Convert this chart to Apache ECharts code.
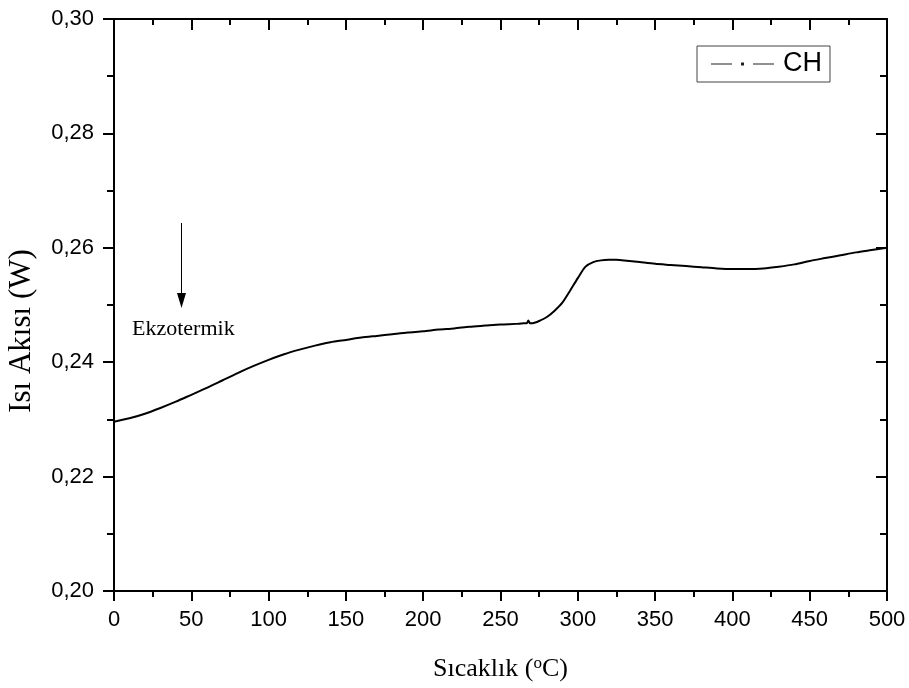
<!DOCTYPE html>
<html>
<head>
<meta charset="utf-8">
<script src="https://cdn.jsdelivr.net/npm/echarts@6/dist/echarts.min.js"></script>
<style>html,body{margin:0;padding:0;background:#fff}#c{width:909px;height:688px}</style>
</head>
<body>
<div id="c"></div>
<script>
var temps = [0,10,20,30,40,50,60,70,80,90,100,110,120,130,140,150,160,170,180,190,200,210,220,230,240,250,260,265,267,268,269,270,272,275,280,285,290,295,300,305,310,315,320,325,330,340,350,360,370,380,390,400,410,420,430,440,450,460,470,480,490,500];
var heatFlow = [0.2296,0.2302,0.2310,0.2320,0.2331,0.2343,0.2355,0.2368,0.2381,0.2393,0.2404,0.2414,0.2422,0.2429,0.2435,0.2439,0.2443,0.2446,0.2449,0.2452,0.2454,0.2457,0.2459,0.2462,0.2464,0.2466,0.2467,0.2468,0.2468,0.2473,0.2468,0.2468,0.2469,0.2472,0.2479,0.2490,0.2504,0.2525,0.2547,0.2567,0.2575,0.2578,0.2579,0.2579,0.2578,0.2575,0.2572,0.2570,0.2568,0.2566,0.2564,0.2563,0.2563,0.2564,0.2567,0.2571,0.2577,0.2582,0.2587,0.2592,0.2596,0.2600];
var seriesName = 'CH';
var xTitle = 'Sıcaklık (';
var yTitle = 'Isı Akısı (W)';
var annotation = 'Ekzotermik';

var data = temps.map(function(t,i){return [t, heatFlow[i]];});
var chart = echarts.init(document.getElementById('c'), null, {renderer:'canvas'});
var axisLineStyle = {color:'#000', width:2};
var baseX = {
  type:'value', min:0, max:500, interval:50,
  axisLine:{show:true, onZero:false, lineStyle:axisLineStyle},
  splitLine:{show:false},
  minorTick:{show:true, splitNumber:2, length:6, lineStyle:{color:'#000', width:2}},
  axisTick:{show:true, length:10, lineStyle:{color:'#000', width:2}}
};
var baseY = {
  type:'value', min:0.2, max:0.3, interval:0.02,
  axisLine:{show:true, onZero:false, lineStyle:axisLineStyle},
  splitLine:{show:false},
  minorTick:{show:true, splitNumber:2, length:7, lineStyle:{color:'#000', width:2}},
  axisTick:{show:true, length:11, lineStyle:{color:'#000', width:2}}
};
var option = {
  animation:false,
  backgroundColor:'#fff',
  grid:{left:114, right:22, top:19, bottom:97, containLabel:false, outerBoundsMode:'none'},
  legend:{
    data:[{name:seriesName, icon:'path://M0,1H21V2H0Z M30,0H33V3H30Z M42,1H63V2H42Z'}],
    left:697, top:46, orient:'horizontal',
    itemWidth:63, itemHeight:3,
    padding:[3,8,3,14],
    borderColor:'#444', borderWidth:1,
    textStyle:{fontFamily:'Liberation Sans', fontSize:27, color:'#000', lineHeight:30, padding:[0,0,0,4]},
    itemStyle:{color:'#222'}
  },
  xAxis:[
    Object.assign({}, baseX, {
      position:'bottom',
      axisLabel:{show:true, margin:18, fontFamily:'Liberation Sans', fontSize:22, color:'#000'},
      name:'', nameLocation:'middle', nameGap:64,
      nameTextStyle:{
        fontFamily:'Liberation Serif', fontSize:26, color:'#000',
        rich:{sup:{fontFamily:'Liberation Serif', fontSize:17, verticalAlign:'top', color:'#000', padding:[0,0,12,0]}, n:{fontFamily:'Liberation Serif', fontSize:26, color:'#000'}}
      }
    }),
    Object.assign({}, baseX, {
      position:'top',
      axisLabel:{show:false},
      axisTick:{show:true, inside:true, length:11, lineStyle:{color:'#000', width:2}},
      minorTick:{show:true, splitNumber:2, length:6, lineStyle:{color:'#000', width:2}}
    })
  ],
  yAxis:[
    Object.assign({}, baseY, {
      position:'left',
      axisLabel:{show:true, margin:20, fontFamily:'Liberation Sans', fontSize:22, color:'#000',
        formatter:function(v){return v.toFixed(2).replace('.', ',');}},
      name:yTitle, nameLocation:'middle', nameGap:77, nameRotate:90,
      nameTextStyle:{fontFamily:'Liberation Serif', fontSize:31, color:'#000', padding:[0,52,0,0]}
    }),
    Object.assign({}, baseY, {
      position:'right',
      axisLabel:{show:false},
      axisTick:{show:true, inside:true, length:11, lineStyle:{color:'#000', width:2}},
      minorTick:{show:true, splitNumber:2, length:7, lineStyle:{color:'#000', width:2}}
    })
  ],
  series:[{
    name:seriesName, type:'line', xAxisIndex:0, yAxisIndex:0,
    data:data, showSymbol:false, symbol:'none',
    smooth:0.25,
    lineStyle:{color:'#000', width:2},
    itemStyle:{color:'#000'}
  }],
  graphic:[
    {type:'line', shape:{x1:181.5, y1:223, x2:181.5, y2:296}, style:{stroke:'#000', lineWidth:1}},
    {type:'polygon', shape:{points:[[177,293],[186,293],[181.5,308]]}, style:{fill:'#000'}},
    {type:'text', left:132, top:318, style:{text:annotation, fontFamily:'Liberation Serif', fontSize:22, fill:'#000'}}
  ]
};
option.xAxis[0].name = '{n|' + xTitle + '}{sup|o}{n|C)}';
chart.setOption(option);
</script>
</body>
</html>
